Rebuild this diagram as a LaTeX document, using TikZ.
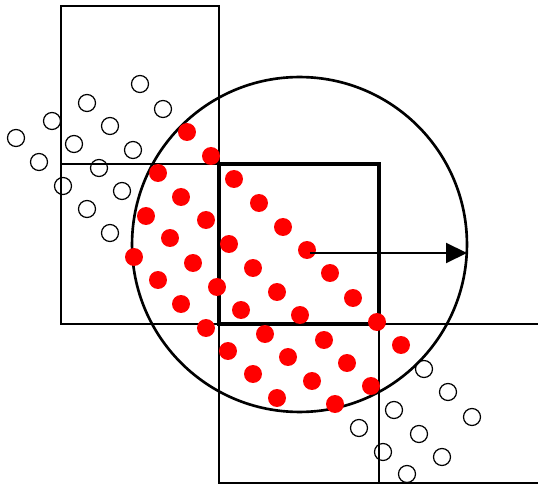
\documentclass[tikz,border=0pt]{standalone}
\usepackage{xcolor}
\usetikzlibrary{arrows.meta}
\definecolor{dotred}{HTML}{FF0000}

\begin{document}
\begin{tikzpicture}[
  x=0.02cm,y=-0.02cm,
  gridline/.style={draw=black,line width=1.1pt},
  cellbox/.style={draw=black,line width=2.4pt},
  kernel/.style={draw=black,line width=1.5pt},
  inpart/.style={circle,fill=dotred,inner sep=0pt,minimum size=3.6mm},
  outpart/.style={circle,draw=black,line width=0.7pt,inner sep=0pt,minimum size=3.4mm},
  arr/.style={-{Triangle[length=4.2mm,width=4mm]},line width=1.2pt}
]
\useasboundingbox (0,0) rectangle (538,486);
% neighbouring cells
\draw[gridline] (61,6) rectangle (219,324);
\draw[gridline] (61,164) -- (219,164);
\draw[gridline] (219,324) -- (538,324);
\draw[gridline] (219,324) -- (219,483) -- (538,483);
\draw[gridline] (379,324) -- (379,483);
% central cell
\draw[cellbox] (219,164) rectangle (379,324);
% smoothing kernel
\draw[kernel] (299.5,244.5) circle (3.35cm);
% particles outside the kernel
\foreach \x/\y [count=\i] in {140/84,163/109,87/103,110/126,133/150,
  52/121,74/144,99/168,122/191,16/138,39/162,63/186,87/209,110/233,
  424/369,448/392,472/417,394/410,419/434,442/457,359/428,383/452,407/474}
  \node[outpart] (q\i) at (\x,\y) {};
% particles inside the kernel
\foreach \x/\y [count=\i] in {187/132,211/156,234/179,259/203,283/227,
  307/250,330/273,353/298,377/322,401/345,
  158/173,181/197,206/220,229/244,253/268,277/292,300/315,324/340,347/363,371/386,
  146/216,170/238,193/263,217/287,241/310,265/334,288/357,312/381,335/404,
  134/257,158/280,181/304,206/328,228/351,253/374,277/398}
  \node[inpart] (p\i) at (\x,\y) {};
% radius
\coordinate (hc) at (310,253);
\coordinate (hr) at (467,253);
\draw[arr] (hc) -- (hr);
\end{tikzpicture}
\end{document}
